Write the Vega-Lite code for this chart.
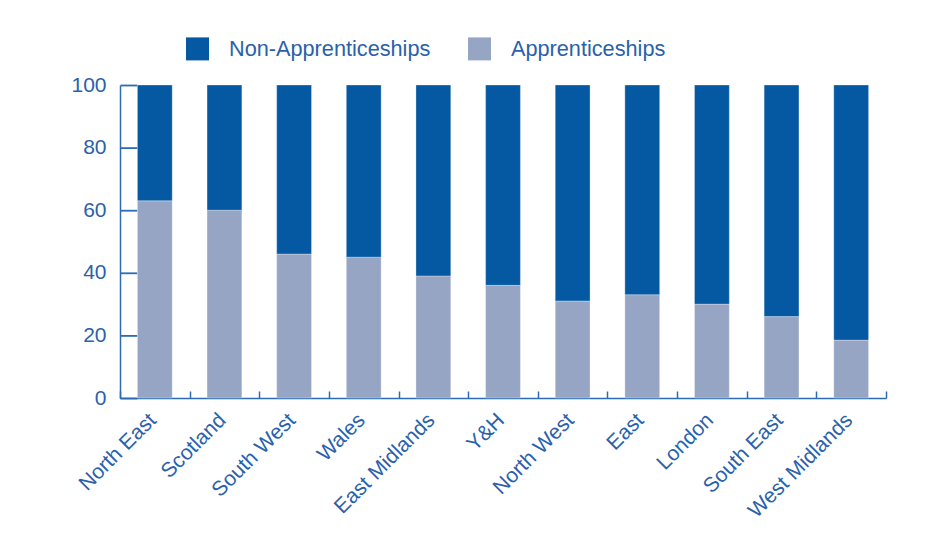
{
  "$schema": "https://vega.github.io/schema/vega-lite/v6.json",
  "width": 766,
  "height": 313,
  "autosize": {"type": "none"},
  "padding": {"left": 120, "top": 85, "right": 53, "bottom": 136},
  "background": "white",
  "data": {
    "values": [
      {"region": "North East", "type": "Apprenticeships", "pct": 63},
      {"region": "North East", "type": "Non-Apprenticeships", "pct": 37},
      {"region": "Scotland", "type": "Apprenticeships", "pct": 60},
      {"region": "Scotland", "type": "Non-Apprenticeships", "pct": 40},
      {"region": "South West", "type": "Apprenticeships", "pct": 46},
      {"region": "South West", "type": "Non-Apprenticeships", "pct": 54},
      {"region": "Wales", "type": "Apprenticeships", "pct": 45},
      {"region": "Wales", "type": "Non-Apprenticeships", "pct": 55},
      {"region": "East Midlands", "type": "Apprenticeships", "pct": 39},
      {"region": "East Midlands", "type": "Non-Apprenticeships", "pct": 61},
      {"region": "Y&H", "type": "Apprenticeships", "pct": 36},
      {"region": "Y&H", "type": "Non-Apprenticeships", "pct": 64},
      {"region": "North West", "type": "Apprenticeships", "pct": 31},
      {"region": "North West", "type": "Non-Apprenticeships", "pct": 69},
      {"region": "East", "type": "Apprenticeships", "pct": 33},
      {"region": "East", "type": "Non-Apprenticeships", "pct": 67},
      {"region": "London", "type": "Apprenticeships", "pct": 30},
      {"region": "London", "type": "Non-Apprenticeships", "pct": 70},
      {"region": "South East", "type": "Apprenticeships", "pct": 26},
      {"region": "South East", "type": "Non-Apprenticeships", "pct": 74},
      {"region": "West Midlands", "type": "Apprenticeships", "pct": 18.5},
      {"region": "West Midlands", "type": "Non-Apprenticeships", "pct": 81.5}
    ]
  },
  "mark": {"type": "bar", "width": {"band": 0.5}, "stroke": "white", "strokeWidth": 0.5, "strokeOpacity": 0.6},
  "encoding": {
    "x": {
      "field": "region",
      "type": "nominal",
      "sort": null,
      "scale": {"paddingInner": 0, "paddingOuter": 0},
      "axis": {
        "title": null,
        "labelAngle": -45,
        "labelAlign": "right",
        "labelBaseline": "top",
        "labelFontSize": 21,
        "labelPadding": 18,
        "labelOffset": -10,
        "labelLimit": 300,
        "ticks": true,
        "tickBand": "extent",
        "tickSize": -7,
        "domainWidth": 1.5
      }
    },
    "y": {
      "field": "pct",
      "type": "quantitative",
      "stack": "zero",
      "scale": {"domain": [0, 100], "nice": false},
      "axis": {
        "title": null,
        "tickCount": 5,
        "labelFontSize": 21,
        "domainWidth": 1.5
      }
    },
    "color": {
      "field": "type",
      "type": "nominal",
      "scale": {
        "domain": ["Non-Apprenticeships", "Apprenticeships"],
        "range": ["#0559a3", "#97a5c5"]
      },
      "legend": {
        "title": null,
        "orient": "none",
        "legendX": 66,
        "legendY": -48,
        "direction": "horizontal",
        "symbolType": "square",
        "symbolSize": 529,
        "symbolStrokeWidth": 0,
        "symbolOpacity": 1,
        "labelFontSize": 21.7,
        "labelOffset": 20,
        "labelLimit": 400,
        "columnPadding": 37,
        "labelColor": "#2a61ab",
        "labelFont": "Liberation Sans"
      }
    },
    "order": {"field": "type", "sort": "ascending"}
  },
  "config": {
    "view": {"stroke": null},
    "axis": {
      "labelFont": "Liberation Sans",
      "labelColor": "#2a61ab",
      "domainColor": "#2b6cb5",
      "tickColor": "#2b6cb5",
      "tickWidth": 1.5
    },
    "axisY": {
      "grid": false,
      "ticks": true,
      "tickSize": -17,
      "tickRound": false,
      "tickWidth": 1.8,
      "tickColor": "#2b6cb5",
      "labelPadding": 31
    }
  }
}
